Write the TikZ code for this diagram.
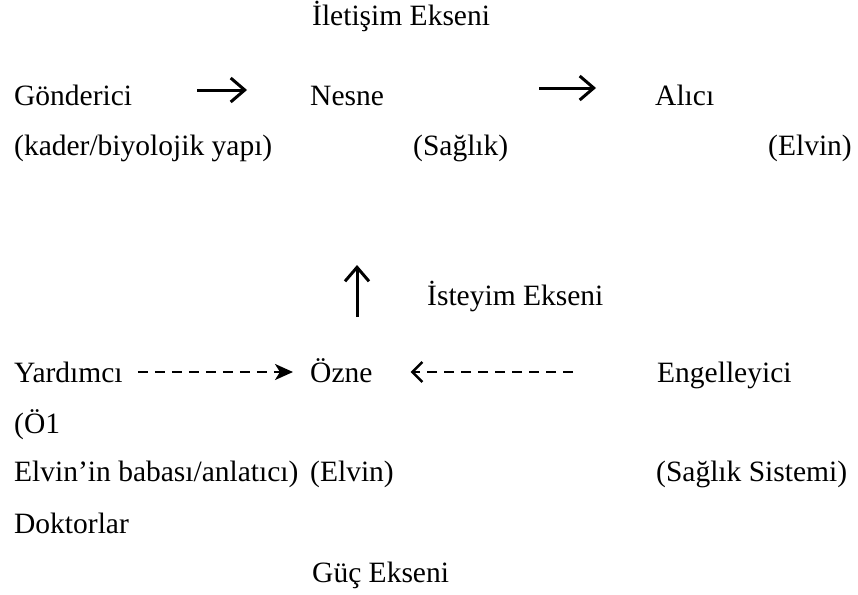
\documentclass[tikz,border=0pt]{standalone}
\usepackage{fontspec}
\setmainfont{Liberation Serif}
\newfontfamily\trserif{Liberation Serif}
\usetikzlibrary{arrows.meta}
\begin{document}
\begin{tikzpicture}[
    x=1pt, y=-1pt,
    lbl/.style={inner sep=0pt, anchor=base west,
        font=\trserif\fontsize{29.5}{35}\selectfont},
    axisarrow/.style={line width=3pt,
        -{Straight Barb[length=14pt,width=24pt]}},
    dasharrow/.style={line width=2.5pt, dash pattern=on 10pt off 7pt},
]
\useasboundingbox (0,0) rectangle (858,594);

% Actant model
\node[lbl] (ilet) at (312,26) {İletişim Ekseni};

\node[lbl] (gon) at (14,105) {Gönderici};
\node[lbl] (nes) at (310,105) {Nesne};
\node[lbl] (ali) at (655,105) {Alıcı};

\node[lbl] (kad) at (14,155) {(kader/biyolojik yapı)};
\node[lbl] (sag) at (413,155) {(Sağlık)};
\node[lbl] (elvA) at (768,155) {(Elvin)};

\node[lbl] (ist) at (427,305) {İsteyim Ekseni};

\node[lbl] (yar) at (14,382) {Yardımcı};
\node[lbl] (ozn) at (310,382) {Özne};
\node[lbl] (eng) at (657,382) {Engelleyici};

\node[lbl] (obir) at (14,433) {(Ö1};
\node[lbl] (bab) at (14,481) {Elvin’in babası/anlatıcı)};
\node[lbl] (elvB) at (310,481) {(Elvin)};
\node[lbl] (sis) at (656,481) {(Sağlık Sistemi)};

\node[lbl] (dok) at (14,533) {Doktorlar};
\node[lbl] (guc) at (312,582) {Güç Ekseni};

% axes
\draw[axisarrow] ([xshift=65pt,yshift=15pt]gon.base east)
    -- ([xshift=-63pt,yshift=15pt]nes.base west);
\draw[axisarrow] ([xshift=155pt,yshift=17pt]nes.base east)
    -- ([xshift=-59pt,yshift=17pt]ali.base west);
\draw[axisarrow] ([xshift=47pt,yshift=65pt]ozn.base west)
    -- ([xshift=47pt,yshift=117pt]ozn.base west);

\draw[dasharrow, -{Stealth[length=18pt,width=16pt,inset=5pt]}]
    ([xshift=15pt,yshift=10pt]yar.base east)
    -- ([xshift=-17pt,yshift=10pt]ozn.base west);
\draw[dasharrow, -{Straight Barb[length=10pt,width=20pt]}]
    ([xshift=-84pt,yshift=10pt]eng.base west)
    -- ([xshift=38pt,yshift=10pt]ozn.base east);
\end{tikzpicture}
\end{document}
